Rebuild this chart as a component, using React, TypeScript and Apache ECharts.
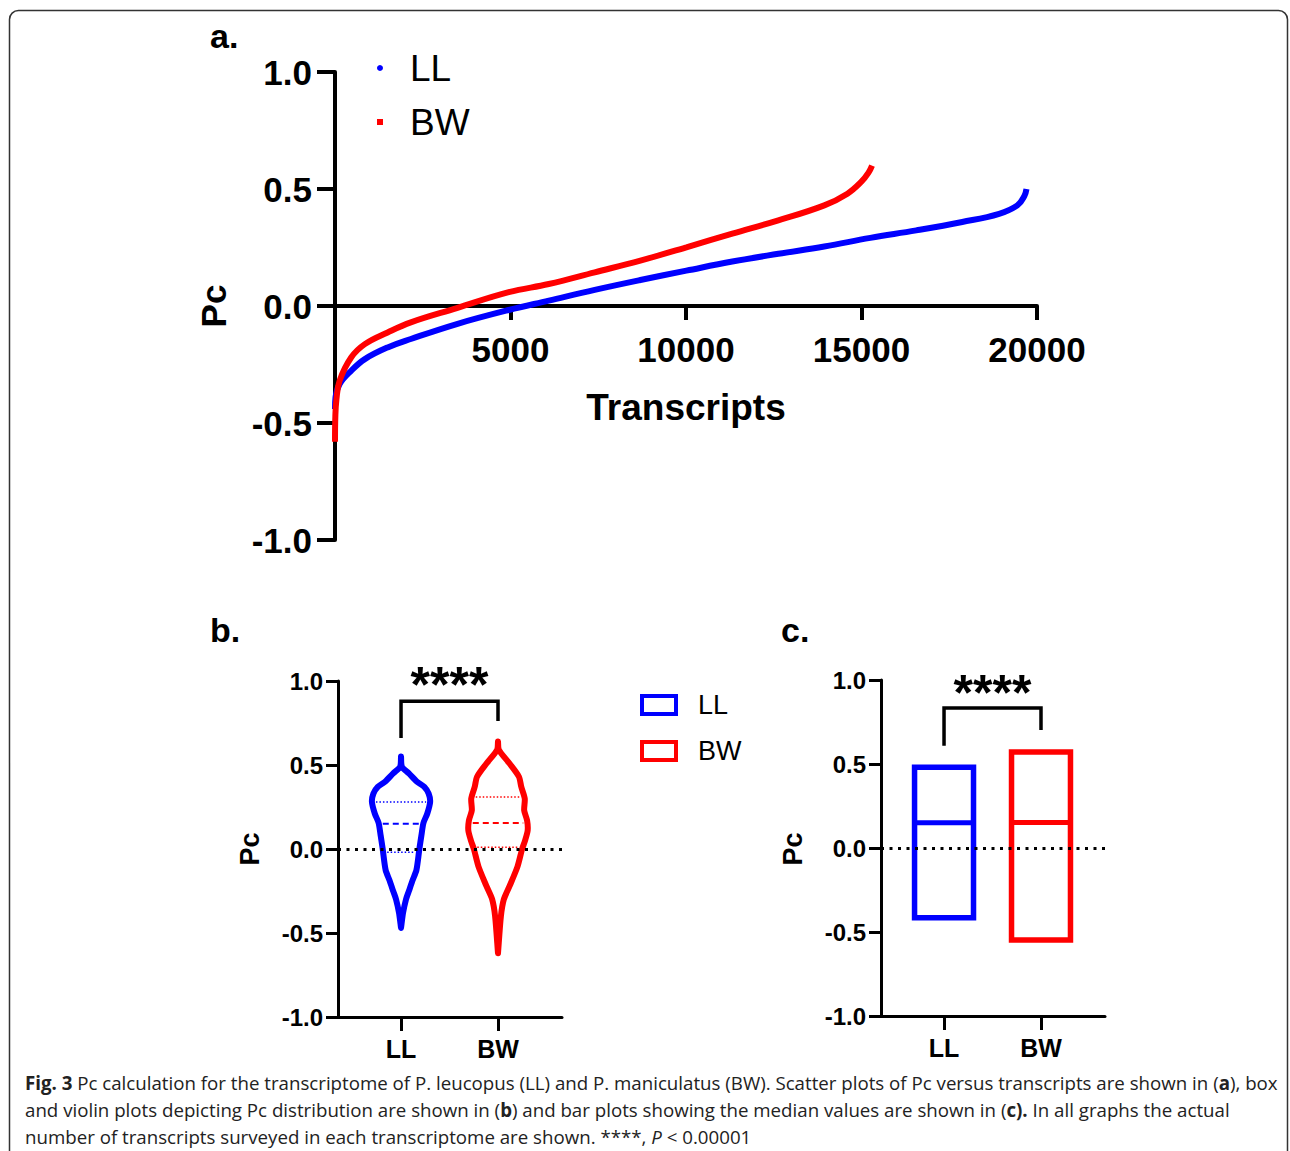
import React, { useEffect, useRef } from "react";
import * as echarts from "echarts";

// ---------- DATA ----------
const groups = ["LL", "BW"];
const groupPos = [1, 2];
const colors = ["#0000ff", "#ff0000"];
const pcTicks = [-1, -0.5, 0, 0.5, 1];

// Panel a: sorted Pc vs transcript rank
const llCurve: [number, number][] = [
  [0, -0.44], [15, -0.39], [130, -0.334], [460, -0.277], [850, -0.227], [1500, -0.177],
  [2160, -0.141], [3470, -0.077], [4950, -0.017], [6090, 0.023], [7400, 0.069],
  [8700, 0.111], [10010, 0.151], [11320, 0.19], [12630, 0.223], [13940, 0.254],
  [15250, 0.291], [16560, 0.323], [17870, 0.359], [18920, 0.394], [19440, 0.43],
  [19640, 0.47], [19700, 0.5],
];
const bwCurve: [number, number][] = [
  [0, -0.58], [10, -0.47], [40, -0.4], [130, -0.32], [460, -0.22], [850, -0.163],
  [1500, -0.113], [2160, -0.07], [3470, -0.009], [4950, 0.059], [6090, 0.094],
  [7400, 0.144], [8700, 0.194], [10010, 0.251], [11320, 0.309], [12630, 0.366],
  [13940, 0.43], [14600, 0.48], [14990, 0.53], [15200, 0.57], [15300, 0.6],
];

// Panel b: violin profiles [Pc, relative density]
const llViolin: [number, number][] = [
  [0.55, 0], [0.49, 0.03], [0.45, 0.27], [0.4, 0.55], [0.37, 0.8], [0.33, 0.95],
  [0.28, 1.0], [0.21, 0.9], [0.155, 0.77], [0.08, 0.7], [0.0, 0.63], [-0.125, 0.53],
  [-0.185, 0.4], [-0.25, 0.27], [-0.3, 0.17], [-0.38, 0.07], [-0.47, 0],
];
const bwViolin: [number, number][] = [
  [0.64, 0], [0.59, 0.03], [0.51, 0.39], [0.43, 0.72], [0.37, 0.8], [0.3, 0.92],
  [0.23, 0.9], [0.17, 1.0], [0.11, 1.02], [0.05, 0.93], [0.0, 0.83], [-0.105, 0.67],
  [-0.22, 0.4], [-0.3, 0.2], [-0.4, 0.1], [-0.62, 0],
];
// quartiles [Q1, median, Q3]
const llQuartiles = [-0.02, 0.15, 0.28];
const bwQuartiles = [0.01, 0.155, 0.31];

// Panel c: [min, median, max]
const llRange = [-0.415, 0.15, 0.48];
const bwRange = [-0.548, 0.152, 0.572];

// significance brackets [leftLegBottom, top, rightLegBottom, starY]
const bracketB = [0.66, 0.88, 0.762, 0.976];
const bracketC = [0.608, 0.834, 0.703, 0.92];

// ---------- STYLE ----------
const FONT = "'Liberation Sans', Arial, sans-serif";
const CAP_FONT = "'Open Sans', sans-serif";
const CAP_SIZE = 18.7;
const VIOLIN_HALF = 0.3;
const BOX_HALF = 0.304;

function widthAt(prof: [number, number][], pc: number) {
  for (let i = 0; i < prof.length - 1; i++) {
    const [y0, d0] = prof[i];
    const [y1, d1] = prof[i + 1];
    if (pc <= y0 && pc >= y1) {
      const t = (pc - y0) / (y1 - y0);
      return d0 + t * (d1 - d0);
    }
  }
  return 0;
}

function violinSeries(name: string, idx: number, prof: [number, number][], quart: number[]) {
  const color = colors[idx];
  return {
    type: "custom",
    name,
    xAxisIndex: 1,
    yAxisIndex: 1,
    itemStyle: { color },
    data: [[groupPos[idx], quart[1]]],
    encode: { x: 0, y: 1 },
    silent: true,
    renderItem: (_p: any, api: any) => {
      const cx = api.value(0);
      const pts: number[][] = [];
      for (const [pc, d] of prof) pts.push(api.coord([cx + d * VIOLIN_HALF, pc]));
      for (let i = prof.length - 1; i >= 0; i--) pts.push(api.coord([cx - prof[i][1] * VIOLIN_HALF, prof[i][0]]));
      const children: any[] = [
        {
          type: "polygon",
          shape: { points: pts, smooth: 0.25 },
          style: { fill: "none", stroke: color, lineWidth: 6, lineJoin: "round" },
        },
      ];
      quart.forEach((q, qi) => {
        const w = widthAt(prof, q) * VIOLIN_HALF;
        const a = api.coord([cx - w, q]);
        const b = api.coord([cx + w, q]);
        children.push({
          type: "line",
          shape: { x1: a[0] + 4, y1: a[1], x2: b[0] - 4, y2: b[1] },
          style: {
            stroke: color,
            lineWidth: qi === 1 ? 2 : 1.5,
            lineDash: qi === 1 ? [6, 4] : [1.5, 2],
          },
        });
      });
      return { type: "group", children };
    },
  };
}

function boxSeries(name: string, idx: number, range: number[]) {
  const color = colors[idx];
  return {
    type: "custom",
    name,
    xAxisIndex: 2,
    yAxisIndex: 2,
    itemStyle: { color },
    data: [[groupPos[idx], range[0], range[1], range[2]]],
    encode: { x: 0, y: [1, 2, 3] },
    silent: true,
    renderItem: (_p: any, api: any) => {
      const x = api.value(0);
      const tl = api.coord([x - BOX_HALF, api.value(3)]);
      const br = api.coord([x + BOX_HALF, api.value(1)]);
      const ml = api.coord([x - BOX_HALF, api.value(2)]);
      const mr = api.coord([x + BOX_HALF, api.value(2)]);
      return {
        type: "group",
        children: [
          {
            type: "rect",
            shape: { x: tl[0], y: tl[1], width: br[0] - tl[0], height: br[1] - tl[1] },
            style: { fill: "none", stroke: color, lineWidth: 5.5 },
          },
          {
            type: "line",
            shape: { x1: ml[0], y1: ml[1], x2: mr[0], y2: mr[1] },
            style: { stroke: color, lineWidth: 5 },
          },
        ],
      };
    },
  };
}

function bracketSeries(axisIdx: number, br: number[]) {
  return {
    type: "custom",
    name: "significance" + axisIdx,
    xAxisIndex: axisIdx,
    yAxisIndex: axisIdx,
    data: [[groupPos[0], groupPos[1], br[0], br[1], br[2], br[3]]],
    encode: { x: [0, 1], y: [2, 3, 4] },
    silent: true,
    renderItem: (_p: any, api: any) => {
      const x1 = api.value(0);
      const x2 = api.value(1);
      const pts = [
        api.coord([x1, api.value(2)]),
        api.coord([x1, api.value(3)]),
        api.coord([x2, api.value(3)]),
        api.coord([x2, api.value(4)]),
      ];
      const s = api.coord([(x1 + x2) / 2, api.value(5)]);
      return {
        type: "group",
        children: [
          {
            type: "polyline",
            shape: { points: pts },
            style: { fill: "none", stroke: "#000", lineWidth: 3.5 },
          },
          {
            type: "text",
            x: s[0],
            y: s[1],
            style: {
              text: "****",
              fontSize: 50,
              fontWeight: "bold",
              fontFamily: FONT,
              fill: "#000",
              align: "center",
              verticalAlign: "middle",
            },
          },
        ],
      };
    },
  };
}

const zeroLine = {
  silent: true,
  symbol: "none",
  label: { show: false },
  lineStyle: { color: "#000", type: [3, 5.5], width: 3 },
  data: [{ yAxis: 0 }],
};

function smallYAxis(gridIndex: number) {
  return {
    type: "value",
    gridIndex,
    min: -1,
    max: 1,
    interval: 0.5,
    axisLine: { show: true, onZero: false, lineStyle: { color: "#000", width: 3 } },
    axisTick: { show: true, length: 12, lineStyle: { color: "#000", width: 3 } },
    axisLabel: {
      fontSize: 24,
      fontWeight: "bold",
      fontFamily: FONT,
      color: "#000",
      margin: 15,
      formatter: (v: number) => v.toFixed(1),
    },
    splitLine: { show: false },
  };
}

function smallXAxis(gridIndex: number) {
  return {
    type: "value",
    gridIndex,
    min: 0.35,
    max: 2.66,
    axisLine: { show: true, onZero: false, lineStyle: { color: "#000", width: 3 } },
    axisTick: { show: true, customValues: groupPos, length: 14, lineStyle: { color: "#000", width: 3 } },
    axisLabel: {
      customValues: groupPos,
      fontSize: 25,
      fontWeight: "bold",
      fontFamily: FONT,
      color: "#000",
      margin: 19,
      formatter: (v: number) => groups[groupPos.indexOf(v)] ?? "",
    },
    splitLine: { show: false },
  };
}

const captionLines = [
  "{b|Fig. 3} Pc calculation for the transcriptome of P. leucopus (LL) and P. maniculatus (BW). Scatter plots of Pc versus transcripts are shown in ({b|a}), box",
  "and violin plots depicting Pc distribution are shown in ({b|b}) and bar plots showing the median values are shown in ({b|c).} In all graphs the actual",
  "number of transcripts surveyed in each transcriptome are shown. ****, {i|P} < 0.00001",
];

function buildOption() {
  const capRich = {
    b: { fontWeight: "bold", fontSize: CAP_SIZE, fontFamily: CAP_FONT, fill: "#222" },
    i: { fontStyle: "italic", fontSize: CAP_SIZE, fontFamily: CAP_FONT, fill: "#222" },
  };
  const graphic: any[] = [
    {
      type: "rect",
      shape: { x: 9.5, y: 10.5, width: 1278, height: 1250, r: 9 },
      style: { fill: "none", stroke: "#333", lineWidth: 1.5 },
      silent: true,
    },
    { type: "text", x: 210, y: 36, style: { text: "a.", fontSize: 34, fontWeight: "bold", fontFamily: FONT, fill: "#000", verticalAlign: "middle" } },
    { type: "text", x: 210, y: 630, style: { text: "b.", fontSize: 34, fontWeight: "bold", fontFamily: FONT, fill: "#000", verticalAlign: "middle" } },
    { type: "text", x: 781, y: 630, style: { text: "c.", fontSize: 34, fontWeight: "bold", fontFamily: FONT, fill: "#000", verticalAlign: "middle" } },
    { type: "text", x: 213, y: 306, rotation: Math.PI / 2, style: { text: "Pc", fontSize: 35, fontWeight: "bold", fontFamily: FONT, fill: "#000", align: "center", verticalAlign: "middle" } },
    { type: "text", x: 686, y: 407, style: { text: "Transcripts", fontSize: 37, fontWeight: "bold", fontFamily: FONT, fill: "#000", align: "center", verticalAlign: "middle" } },
    { type: "text", x: 250, y: 849, rotation: Math.PI / 2, style: { text: "Pc", fontSize: 27, fontWeight: "bold", fontFamily: FONT, fill: "#000", align: "center", verticalAlign: "middle" } },
    { type: "text", x: 793, y: 849, rotation: Math.PI / 2, style: { text: "Pc", fontSize: 27, fontWeight: "bold", fontFamily: FONT, fill: "#000", align: "center", verticalAlign: "middle" } },
  ];
  captionLines.forEach((t, i) => {
    graphic.push({
      type: "text",
      x: 25,
      y: 1082 + i * 27,
      style: {
        text: t,
        rich: capRich,
        fontSize: CAP_SIZE,
        fontFamily: CAP_FONT,
        fill: "#222",
        verticalAlign: "middle",
      },
    });
  });

  return {
    animation: false,
    backgroundColor: "#fff",
    tooltip: { show: false },
    grid: [
      { left: 335, top: 72, width: 702, height: 468 },
      { left: 338, top: 681, width: 224, height: 336 },
      { left: 881, top: 680, width: 224, height: 336 },
    ],
    xAxis: [
      {
        type: "value",
        gridIndex: 0,
        min: 0,
        max: 20000,
        interval: 5000,
        axisLine: { show: true, onZero: true, lineStyle: { color: "#000", width: 4 } },
        axisTick: { show: true, length: 14, lineStyle: { color: "#000", width: 4 } },
        axisLabel: {
          fontSize: 35,
          fontWeight: "bold",
          fontFamily: FONT,
          color: "#000",
          margin: -208,
          formatter: (v: number) => (v === 0 ? "" : String(v)),
        },
        splitLine: { show: false },
      },
      smallXAxis(1),
      smallXAxis(2),
    ],
    yAxis: [
      {
        type: "value",
        gridIndex: 0,
        min: pcTicks[0],
        max: pcTicks[pcTicks.length - 1],
        interval: 0.5,
        axisLine: { show: true, lineStyle: { color: "#000", width: 4 } },
        axisTick: { show: true, length: 18, lineStyle: { color: "#000", width: 4 } },
        axisLabel: {
          fontSize: 35,
          fontWeight: "bold",
          fontFamily: FONT,
          color: "#000",
          margin: 23,
          formatter: (v: number) => v.toFixed(1),
        },
        splitLine: { show: false },
      },
      smallYAxis(1),
      smallYAxis(2),
    ],
    legend: [
      {
        orient: "vertical",
        left: 372,
        top: 44,
        itemWidth: 6,
        itemHeight: 6,
        itemGap: 16,
        selectedMode: false,
        textStyle: { fontSize: 37, lineHeight: 38, fontFamily: FONT, color: "#000", padding: [0, 0, 0, 22] },
        data: [
          { name: "LL", icon: "circle", itemStyle: { color: colors[0] } },
          { name: "BW", icon: "rect", itemStyle: { color: colors[1] } },
        ],
      },
      {
        orient: "vertical",
        left: 635,
        top: 686,
        itemWidth: 34,
        itemHeight: 18,
        itemGap: 18,
        selectedMode: false,
        textStyle: { fontSize: 27, lineHeight: 28, fontFamily: FONT, color: "#000", padding: [0, 0, 0, 17] },
        data: [
          { name: "LL", icon: "rect", itemStyle: { color: "rgba(0,0,0,0)", borderColor: colors[0], borderWidth: 4 } },
          { name: "BW", icon: "rect", itemStyle: { color: "rgba(0,0,0,0)", borderColor: colors[1], borderWidth: 4 } },
        ],
      },
    ],
    series: [
      {
        type: "line",
        name: "LL",
        xAxisIndex: 0,
        yAxisIndex: 0,
        data: llCurve,
        showSymbol: false,
        smooth: 0.4,
        color: colors[0],
        lineStyle: { color: colors[0], width: 6 },
        silent: true,
      },
      {
        type: "line",
        name: "BW",
        xAxisIndex: 0,
        yAxisIndex: 0,
        data: bwCurve,
        showSymbol: false,
        smooth: 0.4,
        color: colors[1],
        lineStyle: { color: colors[1], width: 6 },
        silent: true,
      },
      { ...violinSeries("LL", 0, llViolin, llQuartiles), markLine: zeroLine },
      violinSeries("BW", 1, bwViolin, bwQuartiles),
      { ...boxSeries("LL range", 0, llRange), markLine: zeroLine },
      boxSeries("BW range", 1, bwRange),
      bracketSeries(1, bracketB),
      bracketSeries(2, bracketC),
    ],
    graphic,
  };
}

export default function App() {
  const ref = useRef<HTMLDivElement>(null);
  useEffect(() => {
    if (!ref.current) return;
    const chart = echarts.init(ref.current, undefined, { renderer: "svg" });
    chart.setOption(buildOption() as any);
    return () => chart.dispose();
  }, []);
  return (
    <div
      ref={ref}
      style={{ position: "absolute", left: 0, top: 0, width: 1290, height: 1151, background: "#fff" }}
    />
  );
}
